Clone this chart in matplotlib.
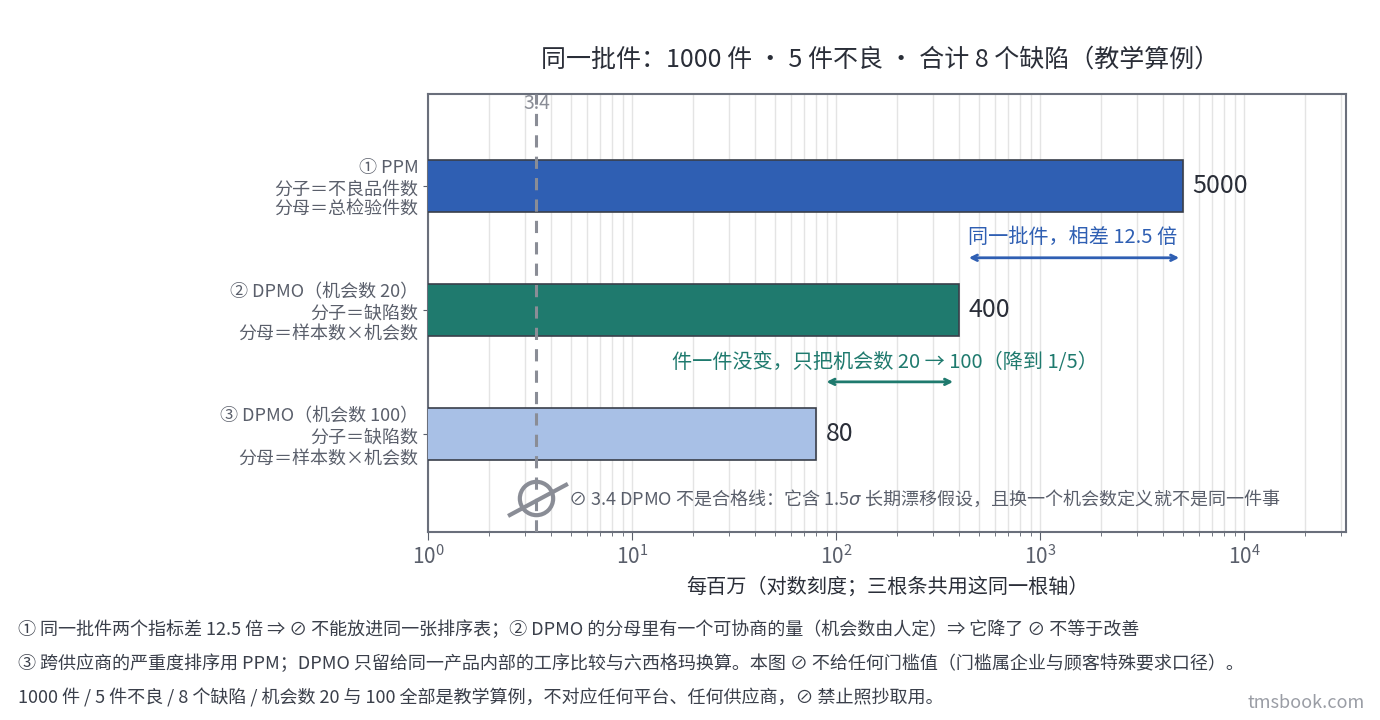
import numpy as np
import matplotlib
matplotlib.use('Agg')
import matplotlib.pyplot as plt

plt.rcParams['font.family'] = ['Noto Sans CJK SC', 'DejaVu Sans']

# 数据
labels = ['① PPM\n分子＝不良品件数\n分母＝总检验件数',
          '② DPMO（机会数 20）\n分子＝缺陷数\n分母＝样本数×机会数',
          '③ DPMO（机会数 100）\n分子＝缺陷数\n分母＝样本数×机会数']
values = [5000, 400, 80]
colors = ['#2f5fb3', '#1f7a6e', '#a8c0e6']
sigma_line = 3.4

grey = '#5a5f6b'
fig = plt.figure(figsize=(13.8, 7.2), dpi=100)
ax = fig.add_axes([428/1380, 1-532/720, 918/1380, 438/720])

y = np.arange(len(values))
ax.barh(y, values, height=0.42, color=colors, edgecolor='#3a3f4a', linewidth=1.2, zorder=3)
ax.set_xscale('log')
ax.set_xlim(1, 10**4.5)
ax.set_ylim(2.79, -0.74)
ax.set_yticks(y)
ax.set_yticklabels(labels, fontsize=13, color=grey, linespacing=1.2)
ax.grid(True, which='both', axis='x', color='#e4e4e4', linewidth=1, zorder=0)
ax.tick_params(axis='x', which='major', labelsize=15, colors=grey, length=6)
ax.tick_params(axis='x', which='minor', colors=grey, length=3)
ax.tick_params(axis='y', colors=grey)
for s in ax.spines.values():
    s.set_color('#6a6f7b')
    s.set_linewidth(1.5)

for yi, v in zip(y, values):
    ax.text(v * 1.12, yi, str(v), va='center', ha='left', fontsize=18, color='#2a2e38')

# 3.4 参考线
ax.axvline(sigma_line, color='#8a8d96', linestyle='--', linewidth=2.2, dashes=(4, 3), zorder=4)
ax.text(sigma_line, -0.66, '3.4', ha='center', va='center', fontsize=14, color='#8a8d96')

# 箭头注释
ax.annotate('', xy=(434, 0.58), xytext=(4966, 0.58),
            arrowprops=dict(arrowstyle='<->', color='#2f5fb3', lw=2))
ax.text(1446, 0.42, '同一批件，相差 12.5 倍', ha='center', va='center',
        fontsize=14.5, color='#2f5fb3')
ax.annotate('', xy=(87, 1.58), xytext=(387, 1.58),
            arrowprops=dict(arrowstyle='<->', color='#1f7a6e', lw=2))
ax.text(174, 1.42, '件一件没变，只把机会数 20 → 100（降到 1/5）', ha='center', va='center',
        fontsize=14.5, color='#1f7a6e')

# 禁止符号
ax.plot([sigma_line], [2.52], marker='o', markersize=24, markerfacecolor='none',
        markeredgecolor='#8a8d96', markeredgewidth=3, zorder=5)
ax.plot([2.52, 4.75], [2.653, 2.41], color='#8a8d96', linewidth=3, zorder=5)
ax.text(4.85, 2.52, '⊘ 3.4 DPMO 不是合格线：它含 1.5$\\sigma$ 长期漂移假设，且换一个机会数定义就不是同一件事',
        ha='left', va='center', fontsize=13, color=grey)

ax.set_xlabel('每百万（对数刻度；三根条共用这同一根轴）', fontsize=14.5, color='#2a2e38', labelpad=6)
fig.text(880/1380, 1-60/720, '同一批件：1000 件 · 5 件不良 · 合计 8 个缺陷（教学算例）',
         ha='center', va='center', fontsize=18, color='#2a2e38')

notes = ['① 同一批件两个指标差 12.5 倍 ⇒ ⊘ 不能放进同一张排序表；② DPMO 的分母里有一个可协商的量（机会数由人定）⇒ 它降了 ⊘ 不等于改善',
         '③ 跨供应商的严重度排序用 PPM；DPMO 只留给同一产品内部的工序比较与六西格玛换算。本图 ⊘ 不给任何门槛值（门槛属企业与顾客特殊要求口径）。',
         '1000 件 / 5 件不良 / 8 个缺陷 / 机会数 20 与 100 全部是教学算例，不对应任何平台、任何供应商，⊘ 禁止照抄取用。']
for i, n in enumerate(notes):
    fig.text(18/1380, 1-(630 + 34*i)/720, n, ha='left', va='center', fontsize=13, color='#3a3f4a')
fig.text(1365/1380, 1-703/720, 'tmsbook.com', ha='right', va='center', fontsize=13, color='#9a9da5')

fig.savefig('out.png', dpi=100)
